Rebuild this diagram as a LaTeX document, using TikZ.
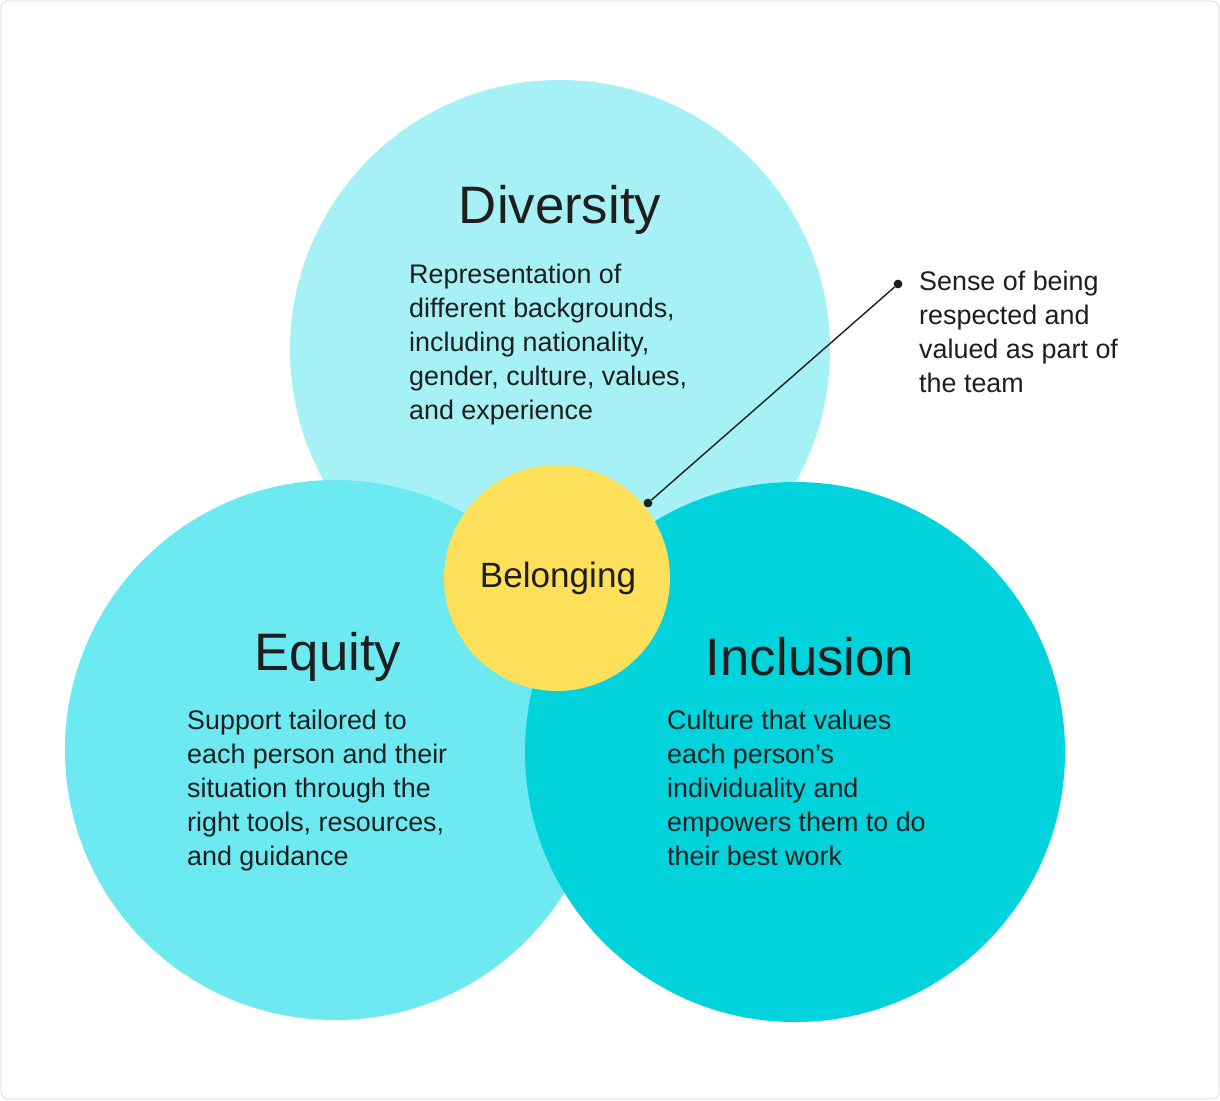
\documentclass[tikz,border=0pt]{standalone}
\usepackage{fontspec}
\setmainfont{Liberation Sans}
\definecolor{divcol}{HTML}{A6F1F6}
\definecolor{equcol}{HTML}{6CE9F1}
\definecolor{inccol}{HTML}{00D3DB}
\definecolor{belcol}{HTML}{FDE05A}
\definecolor{inkcol}{HTML}{1E1E1E}
\tikzset{
  heading/.style={font=\fontsize{30}{34}\selectfont, text=inkcol},
  bodytext/.style={font=\fontsize{15.3}{19.3}\selectfont, text=inkcol, align=left, anchor=north west},
  dotend/.style={circle, fill=inkcol, inner sep=0pt, minimum size=5pt}
}
\begin{document}
\begin{tikzpicture}[x=0.02cm,y=-0.02cm]
  \useasboundingbox (0,0) rectangle (1220,1100);
  \draw[gray!30, rounded corners=4pt] (1,1) rectangle (1219,1099);

  % circles
  \fill[divcol] (560,350) circle (270);
  \fill[equcol] (335,750) circle (270);
  \fill[inccol] (795,752) circle (270);
  \fill[belcol] (557,578) circle (113);

  % headings
  \node[heading] (diversity) at (560,210) {Diversity};
  \node[heading] (equity) at (328,657) {Equity};
  \node[heading] (inclusion) at (810,657) {Inclusion};
  \node[font=\fontsize{20}{24}\selectfont, text=inkcol] (belonging) at (558,578) {Belonging};

  % descriptions
  \node[bodytext] (divtext) at (403,258) {Representation of\\different backgrounds,\\including nationality,\\gender, culture, values,\\and experience};
  \node[bodytext] (equtext) at (181,704) {Support tailored to\\each person and their\\situation through the\\right tools, resources,\\and guidance};
  \node[bodytext] (inctext) at (661,704) {Culture that values\\each person's\\individuality and\\empowers them to do\\their best work};

  % callout
  \node[dotend] (calloutA) at (648,503) {};
  \node[dotend] (calloutB) at (898,284) {};
  \draw[inkcol, line width=0.8pt] (calloutA) -- (calloutB);
  \node[bodytext] (callouttext) at (913,265) {Sense of being\\respected and\\valued as part of\\the team};
\end{tikzpicture}
\end{document}
